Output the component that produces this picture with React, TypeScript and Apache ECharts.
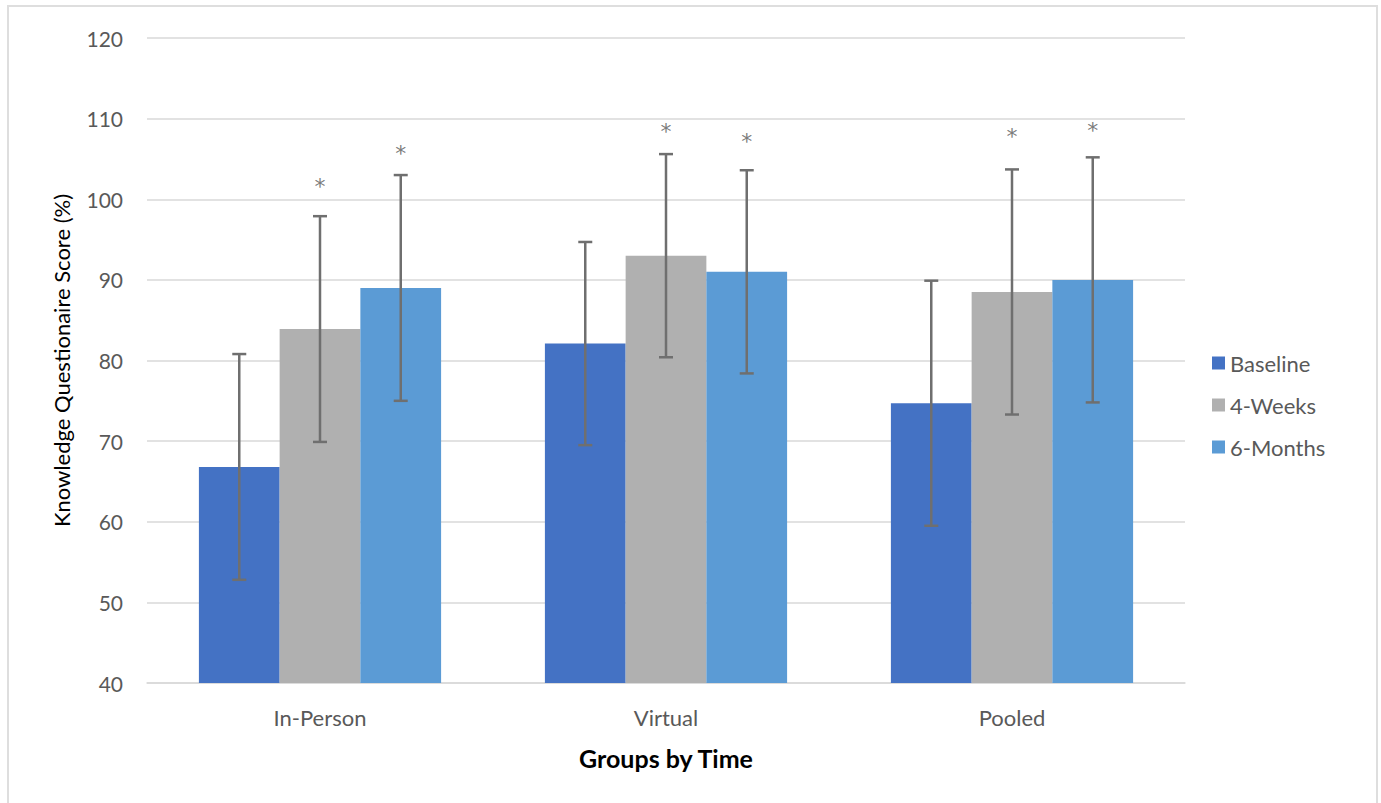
import React, { useEffect, useRef } from "react";
import * as echarts from "echarts";

const categories = ["In-Person", "Virtual", "Pooled"];
const seriesNames = ["Baseline", "4-Weeks", "6-Months"];
const baseline = [66.8, 82.1, 74.7];
const fourWeeks = [83.9, 93.0, 88.5];
const sixMonths = [89.0, 91.0, 90.0];
// error (± SD) per group, same for each time point within a group
const baselineErr = [14.0, 12.6, 15.2];
const fourWeeksErr = [14.0, 12.6, 15.2];
const sixMonthsErr = [14.0, 12.6, 15.2];
// asterisk positions (value units) marking significance
const starFourWeeks = [102.2, 109.0, 108.4];
const starSixMonths = [106.3, 107.8, 109.2];

const colors = ["#4472C4", "#B0B0B0", "#5B9BD5"];
const FONT = "Lato, 'Open Sans', sans-serif";
const CAT_GAP = 0.3;
const GRID = { left: 147, right: 196, top: 38, bottom: 120 };
const WIDTH = 1381;
const BAND = (WIDTH - GRID.left - GRID.right) / categories.length;
const BAR_W = (BAND * (1 - CAT_GAP)) / 3;

function offsetX(api: any, sIdx: number) {
  const band = api.size([1, 0])[0];
  const bw = (band * (1 - CAT_GAP)) / 3;
  return { off: (sIdx - 1) * bw, bw };
}

function errSeries(vals: number[], errs: number[], sIdx: number) {
  return {
    type: "custom",
    name: seriesNames[sIdx] + " SD",
    z: 5,
    itemStyle: { color: "#6f6f6f" },
    data: vals.map((v, i) => [i, v - errs[i], v + errs[i]]),
    renderItem: (params: any, api: any) => {
      const ci = api.value(0);
      const lo = api.coord([ci, api.value(1)]);
      const hi = api.coord([ci, api.value(2)]);
      const { off } = offsetX(api, sIdx);
      const x = lo[0] + off;
      const cap = 7;
      const style = { stroke: "#6f6f6f", lineWidth: 2.5 };
      return {
        type: "group",
        children: [
          { type: "line", shape: { x1: x, y1: lo[1], x2: x, y2: hi[1] }, style },
          { type: "line", shape: { x1: x - cap, y1: lo[1], x2: x + cap, y2: lo[1] }, style },
          { type: "line", shape: { x1: x - cap, y1: hi[1], x2: x + cap, y2: hi[1] }, style },
        ],
      };
    },
  };
}

function starSeries(vals: number[], sIdx: number) {
  return {
    type: "scatter",
    name: seriesNames[sIdx] + " sig",
    z: 6,
    symbolSize: 1,
    itemStyle: { color: "rgba(0,0,0,0)" },
    data: vals.map((v, i) => [i, v]),
    label: {
      show: true,
      position: "inside",
      formatter: "*",
      color: "#595959",
      fontSize: 22,
      fontFamily: "'DejaVu Sans', sans-serif",
      offset: [(sIdx - 1) * BAR_W, 5],
    },
  };
}

export default function App() {
  const ref = useRef<HTMLDivElement>(null);
  useEffect(() => {
    const chart = echarts.init(ref.current!, null, { renderer: "svg" });
    const barData = [baseline, fourWeeks, sixMonths];
    chart.setOption({
      animation: false,
      backgroundColor: "#ffffff",
      grid: { ...GRID, containLabel: false },
      legend: {
        data: seriesNames,
        orient: "vertical",
        left: 1207,
        top: 347,
        itemWidth: 13,
        itemHeight: 13,
        itemGap: 20,
        icon: "rect",
        textStyle: { fontSize: 22, color: "#595959", fontFamily: FONT },
      },
      xAxis: {
        type: "category",
        data: categories,
        axisLine: { lineStyle: { color: "#d9d9d9", width: 1.5 } },
        axisTick: { show: false },
        axisLabel: { fontSize: 22, color: "#595959", fontFamily: FONT, margin: 23 },
        name: "Groups by Time",
        nameLocation: "middle",
        nameGap: 62,
        nameTextStyle: { fontSize: 25, fontWeight: "bold", color: "#000", fontFamily: FONT },
      },
      yAxis: {
        type: "value",
        min: 40,
        max: 120,
        interval: 10,
        axisLine: { show: false },
        axisTick: { show: false },
        splitLine: { lineStyle: { color: "#d9d9d9", width: 1.5 } },
        axisLabel: { fontSize: 21, color: "#595959", fontFamily: FONT, margin: 24 },
        name: "Knowledge Questionaire Score (%)",
        nameLocation: "middle",
        nameGap: 75,
        nameRotate: 90,
        nameTextStyle: { fontSize: 22, color: "#000", fontFamily: FONT },
      },
      graphic: [
        {
          type: "rect",
          shape: { x: 8, y: 6, width: 1369, height: 805 },
          style: { fill: "none", stroke: "#dedede", lineWidth: 2 },
          silent: true,
        },
      ],
      series: [
        ...barData.map((d, i) => ({
          type: "bar",
          name: seriesNames[i],
          data: d,
          itemStyle: { color: colors[i] },
          barGap: "0%",
          barCategoryGap: "30%",
        })),
        errSeries(baseline, baselineErr, 0),
        errSeries(fourWeeks, fourWeeksErr, 1),
        errSeries(sixMonths, sixMonthsErr, 2),
        starSeries(starFourWeeks, 1),
        starSeries(starSixMonths, 2),
      ],
    });
    return () => chart.dispose();
  }, []);
  return (
    <div
      ref={ref}
      style={{ position: "fixed", left: 0, top: 0, width: WIDTH, height: 803 }}
    />
  );
}
